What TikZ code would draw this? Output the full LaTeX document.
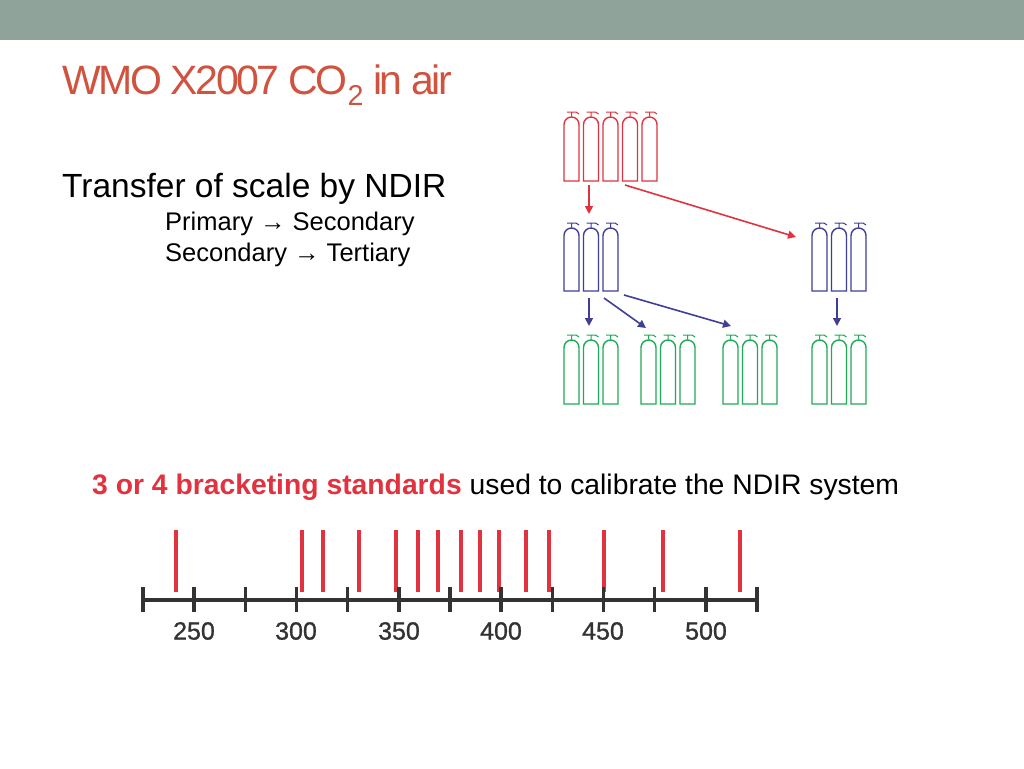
\documentclass[tikz,border=0pt]{standalone}
\usepackage{fontspec}
\setmainfont{Liberation Sans}
\usetikzlibrary{arrows.meta}
\definecolor{cred}{HTML}{E0333F}
\definecolor{cblue}{HTML}{3F3F96}
\definecolor{cgreen}{HTML}{1FAA55}
\definecolor{ttl}{HTML}{D0533F}
\definecolor{bar}{HTML}{8FA39A}
\newcommand{\mycyl}[4]{% x, ytop, ybot, color
  \draw[#4,line width=1.4pt] (#1,#3) -- ([yshift=-7.5pt]#1,#2) arc[start angle=180,end angle=360,radius=7.5] -- ([xshift=15pt]#1,#3) -- cycle;
  \draw[#4,line width=1pt] ([xshift=7.5pt,yshift=0.5pt]#1,#2) -- ([xshift=7.5pt,yshift=5pt]#1,#2)
     ([xshift=3pt,yshift=5pt]#1,#2) -- ([xshift=12pt,yshift=5pt]#1,#2) -- ([xshift=15pt,yshift=3pt]#1,#2);
}
\newcommand{\mygroup}[5]{% x, n, ytop, ybot, color
  \foreach \i in {1,...,#2}{\pgfmathsetmacro\cx{#1+(\i-1)*19.5}\mycyl{\cx}{#3}{#4}{#5}}
}
\begin{document}
\begin{tikzpicture}[x=1pt,y=-1pt,
  arr/.style={line width=1.6pt,-{Triangle[length=8pt,width=8pt]}},
  tick/.style={line width=4pt,draw=black!80}]
\useasboundingbox (0,0) rectangle (1024,768);
\fill[white] (0,0) rectangle (1024,768);
\fill[bar] (0,0) rectangle (1024,40);
\node[anchor=base west,text=ttl,font=\fontsize{41}{41}\selectfont\addfontfeature{LetterSpace=-6},inner sep=0] (title) at (62,94) {WMO X2007 CO\textsubscript{2} in air};
\node[anchor=base west,font=\fontsize{33.5}{33.5}\selectfont,inner sep=0] (t1) at (62,197) {Transfer of scale by NDIR};
\node[anchor=base west,font=\fontsize{25.5}{25.5}\selectfont,inner sep=0] (t2) at (165,230) {Primary → Secondary};
\node[anchor=base west,font=\fontsize{25.5}{25.5}\selectfont,inner sep=0] (t3) at (165,261) {Secondary → Tertiary};
\node[anchor=base west,font=\fontsize{28.3}{28.3}\selectfont,inner sep=0] (t4) at (92,494) {\textcolor{cred}{\bfseries 3 or 4 bracketing standards} used to calibrate the NDIR system};
% cylinders
\mygroup{564}{5}{117}{181}{cred}
\mygroup{564}{3}{228}{291}{cblue}
\mygroup{812}{3}{228}{291}{cblue}
\mygroup{564}{3}{340}{404}{cgreen}
\mygroup{641}{3}{340}{404}{cgreen}
\mygroup{723}{3}{340}{404}{cgreen}
\mygroup{812}{3}{340}{404}{cgreen}
% arrows
\coordinate (a1) at (589,185); \coordinate (b1) at (589,214);
\coordinate (a2) at (625,185); \coordinate (b2) at (796,237);
\draw[arr,cred] (a1) -- (b1);
\draw[arr,cred] (a2) -- (b2);
\coordinate (a3) at (589,298); \coordinate (b3) at (589,326);
\coordinate (a4) at (604,298); \coordinate (b4) at (646,328);
\coordinate (a5) at (624,295); \coordinate (b5) at (731,326);
\coordinate (a6) at (837,298); \coordinate (b6) at (837,326);
\draw[arr,cblue] (a3) -- (b3);
\draw[arr,cblue] (a4) -- (b4);
\draw[arr,cblue] (a5) -- (b5);
\draw[arr,cblue] (a6) -- (b6);
% axis
\foreach \x in {176,302,323,359,396,418,438,461,480,499,526,549,604,663,740}
  \draw[cred,line width=4pt] (\x,530) -- (\x,592);
\draw[line width=4pt,draw=black!80] (143,600) -- (757,600);
\foreach \k in {0,...,12}{
  \pgfmathsetmacro\tx{143+\k*51.17}
  \draw[tick,line width=3.5pt] (\tx,587) -- (\tx,612);}
\foreach \v/\x in {250/194,300/296,350/399,400/501,450/603,500/706}
  \node[font=\fontsize{25}{25}\selectfont\addfontfeature{FakeBold=1},text=black!80] (l\v) at (\x,631) {\v};
\end{tikzpicture}
\end{document}
